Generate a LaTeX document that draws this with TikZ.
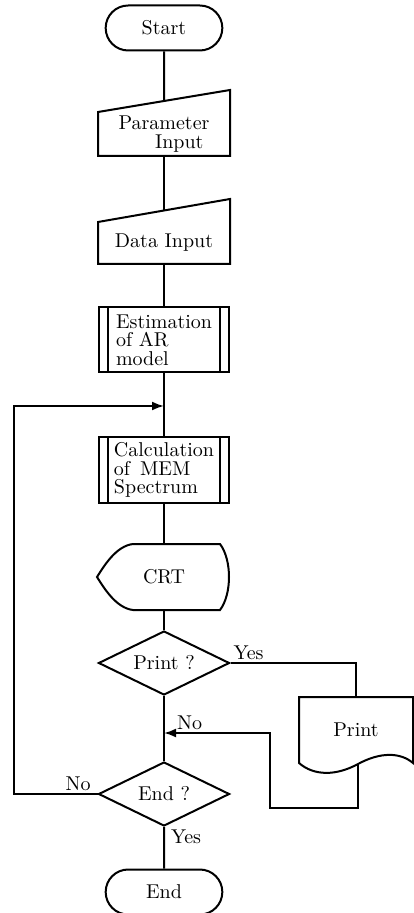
\documentclass[tikz,border=0pt]{standalone}
\usetikzlibrary{shapes.geometric,shapes.misc,calc,arrows.meta}

\tikzset{
  termbox/.style={rounded rectangle, draw, minimum width=65pt, minimum height=22.5pt},
  inbox/.style={rectangle, inner sep=1pt, minimum width=65pt},
  procbox/.style={rectangle, draw, inner sep=1pt, minimum width=65pt,
    minimum height=32.5pt, align=left},
  decbox/.style={diamond, draw, aspect=2, inner sep=1pt,
    minimum width=65.5pt, minimum height=32pt},
  lbl/.style={inner sep=1pt},
  multi/.style={font=\fontsize{10pt}{9.2pt}\selectfont},
}

\begin{document}
\begin{tikzpicture}[x=0.5pt,y=-0.5pt,line width=1pt,>={Latex[length=6pt,width=4.5pt]}]
  \useasboundingbox (0,0) rectangle (413,913);

  % main column
  \node[termbox] (start) at (164,28) {Start};
  \node[inbox, multi, minimum height=21pt, align=right] (parin) at (164,134)
    {Parameter\\Input\hspace*{3pt}};
  \node[inbox, minimum height=20pt] (datin) at (164,243) {Data Input};
  \node[procbox, multi] (est) at (164,340) {Estimation\\of AR\\model};
  \node[procbox, multi] (mem) at (164,470) {Calculation\\of\enspace MEM\\Spectrum};
  \node[inbox, minimum width=66pt, minimum height=33pt] (crt) at (164,577) {CRT};
  \node[decbox] (pq) at (164,663) {Print ?};
  \node[decbox] (eq) at (164,794) {End ?};
  \node[termbox] (end) at (164,892) {End};
  \node[inbox, minimum width=56pt, minimum height=32pt] (prt) at (356,730) {Print};

  % joins
  \coordinate (parin-in) at ($(parin.north)+(0,-11)$);
  \coordinate (datin-in) at ($(datin.north)+(0,-11.5)$);
  \coordinate (loop-a) at (164,406);
  \coordinate (loop-b) at (164,733);
  \coordinate (prt-out) at (358,764);

  % manual input
  \draw (parin.south west) -- (parin.south east) -- ($(parin.north east)+(0,-22)$)
    -- (parin.north west) -- cycle;
  \draw (datin.south west) -- (datin.south east) -- ($(datin.north east)+(0,-23)$)
    -- (datin.north west) -- cycle;

  % predefined process
  \foreach \p in {est,mem}{
    \draw ($(\p.north west)+(10,0)$) -- ($(\p.south west)+(10,0)$);
    \draw ($(\p.north east)+(-10,0)$) -- ($(\p.south east)+(-10,0)$);
  }

  % display
  \draw (crt.west) .. controls (104,566) and (116,546) .. (133,544) -- (220,544)
    .. controls (232,560) and (232,594) .. (220,610) -- (133,610)
    .. controls (116,608) and (104,588) .. (crt.west) -- cycle;

  % document
  \draw (prt.north west) -- (prt.north east) -- (prt.south east)
    .. controls (400,752) and (380,752) .. (prt-out)
    .. controls (336,776) and (314,776) .. (prt.south west) -- cycle;

  % connectors
  \draw (start) -- (parin-in);
  \draw (parin) -- (datin-in);
  \draw (datin) -- (est);
  \draw (est) -- (mem);
  \draw (mem) -- (crt);
  \draw (crt) -- (pq);
  \draw (pq) -- (eq);
  \draw (eq) -- (end);
  \draw (pq.east) -| (prt.north);
  \draw[->] (prt-out) -- ++(0,44) -- ++(-88,0) |- (loop-b);
  \draw[->] (eq.west) -- ++(-84,0) |- (loop-a);

  % labels
  \node[lbl, anchor=south west] (yes-a) at (pq.east) {Yes};
  \node[lbl, anchor=south west] (no-b) at ($(loop-b)+(10,0)$) {No};
  \node[lbl, anchor=south east] (no-a) at ($(eq.west)+(-4,0)$) {No};
  \node[lbl, anchor=north west] (yes-b) at ($(eq.south)+(4,0)$) {Yes};
\end{tikzpicture}
\end{document}
